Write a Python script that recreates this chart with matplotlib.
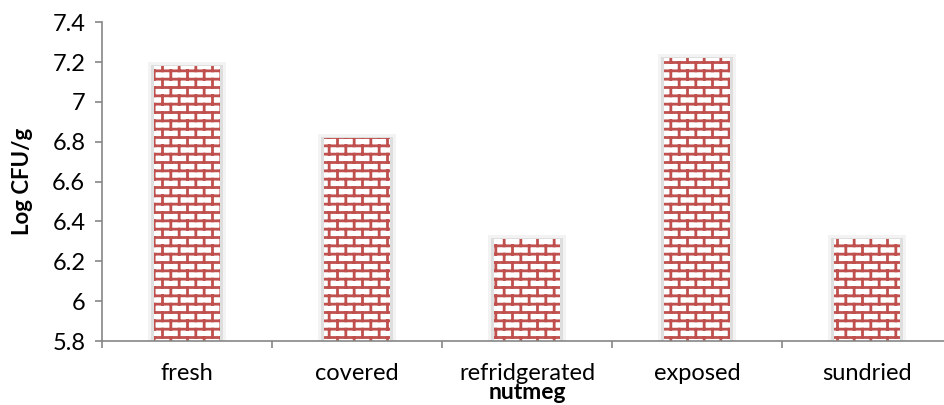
import warnings
import numpy as np
import matplotlib
matplotlib.use("Agg")
import matplotlib.pyplot as plt
from matplotlib import hatch as mhatch
from matplotlib.path import Path

categories = ["fresh", "covered", "refridgerated", "exposed", "sundried"]
log_cfu = [7.18, 6.82, 6.31, 7.22, 6.31]
yticks = [5.8, 6, 6.2, 6.4, 6.6, 6.8, 7, 7.2, 7.4]
ytick_labels = ["5.8", "6", "6.2", "6.4", "6.6", "6.8", "7", "7.2", "7.4"]

BRICK = "#C0504D"
AXIS_GREY = "#868686"


class BrickHatch(mhatch.HatchPatternBase):
    """Brick wall hatch, triggered by 'B' in the hatch string."""
    rows = 12
    cols = 6

    def __init__(self, hatch, density):
        segs = []
        if "B" in hatch:
            h = 1.0 / self.rows
            w = 1.0 / self.cols
            for r in range(self.rows):
                y0 = (r + 0.5) * h
                segs.append(((0.0, y0), (1.0, y0)))
                off = 0.25 * w if r % 2 == 0 else 0.75 * w
                y1 = y0 + h
                for c in range(self.cols):
                    x = c * w + off
                    if y1 <= 1.0:
                        segs.append(((x, y0), (x, y1)))
                    else:
                        segs.append(((x, y0), (x, 1.0)))
                        segs.append(((x, 0.0), (x, y1 - 1.0)))
        self.segs = np.array(segs, dtype=float).reshape(-1, 2)
        self.num_vertices = len(self.segs)

    def set_vertices_and_codes(self, vertices, codes):
        vertices[:] = self.segs
        codes[0::2] = Path.MOVETO
        codes[1::2] = Path.LINETO


mhatch._hatch_types.append(BrickHatch)
warnings.filterwarnings("ignore", message=".*[Hh]atch.*")

plt.rcParams["font.family"] = ["Lato", "DejaVu Sans"]
plt.rcParams["hatch.linewidth"] = 2.0
plt.rcParams["hatch.color"] = BRICK

fig = plt.figure(figsize=(9.44, 4.05), dpi=100)
ax = fig.add_axes([102 / 944, 64 / 405, 850 / 944, 318.7 / 405])

x = np.arange(len(categories))
bar_w = 0.394
px_x = 1 / 170.0
px_y = 1 / 199.2

# soft grey glow behind each bar
ax.bar(x, np.array(log_cfu) + 4 * px_y, width=bar_w + 12 * px_x,
       color="#F3F3F3", edgecolor="none", zorder=1)
ax.bar(x, np.array(log_cfu) + 1 * px_y, width=bar_w + 6 * px_x,
       color="#DEDEDE", edgecolor="none", zorder=1.5)
ax.bar(x, log_cfu, width=bar_w, color="white", edgecolor=BRICK,
       linewidth=0, hatch="B", zorder=2)

ax.set_xlim(-0.5, len(categories) - 0.5)
ax.set_ylim(5.8, 7.4)
ax.set_yticks(yticks)
ax.set_yticklabels(ytick_labels)
ax.set_xticks(x)
ax.set_xticklabels(categories)
ax.set_xticks(np.arange(len(categories) + 1) - 0.5, minor=True)

for side in ["top", "right"]:
    ax.spines[side].set_visible(False)
for side in ["left", "bottom"]:
    ax.spines[side].set_color(AXIS_GREY)
    ax.spines[side].set_linewidth(1.2)

ax.tick_params(axis="y", length=5, width=1.2, color=AXIS_GREY,
               labelsize=17, pad=7)
ax.tick_params(axis="x", which="major", length=0, labelsize=17, pad=16)
ax.tick_params(axis="x", which="minor", length=5, width=1.2,
               color=AXIS_GREY)

ax.set_ylabel("Log CFU/g", fontsize=16, fontweight="bold")
ax.yaxis.set_label_coords(-0.081, 0.5)
ax.set_xlabel("nutmeg", fontsize=16.5, fontweight="bold")
ax.xaxis.set_label_coords(0.5, -0.128)

fig.savefig("out.png", dpi=100)
